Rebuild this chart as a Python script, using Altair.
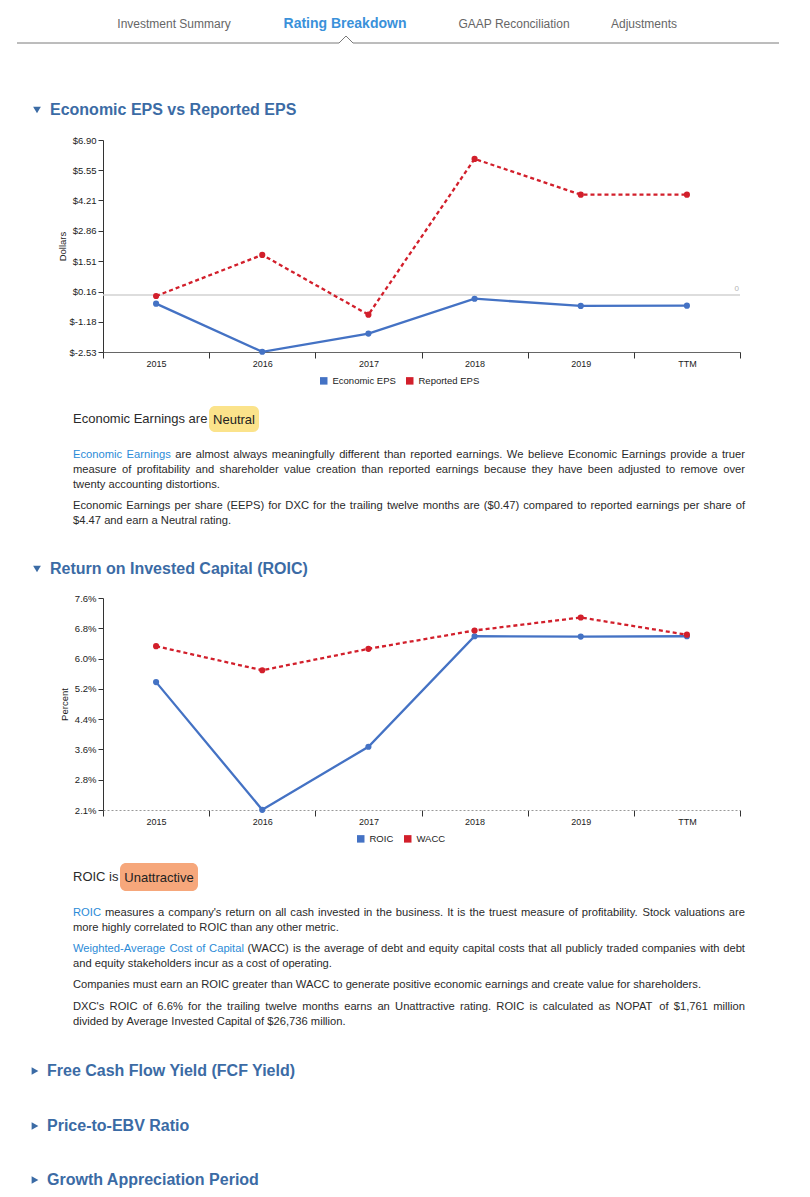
import altair as alt
import pandas as pd

FONT = "Liberation Sans"
BLUE = "#4472c4"
RED = "#d21f2b"
TITLE_C = "#3b6ba5"
LINK_C = "#2b8bd7"
TEXT_C = "#2a2a2a"
TAB_C = "#666666"

# ---------------- data ----------------
periods = ["2015", "2016", "2017", "2018", "2019", "TTM"]

eps_series = ["Economic EPS", "Reported EPS"]
economic_eps = [-0.38, -2.52, -1.71, -0.16, -0.48, -0.47]
reported_eps = [-0.04, 1.79, -0.87, 6.06, 4.47, 4.47]
eps_ticks = [-2.53, -1.18, 0.16, 1.51, 2.86, 4.21, 5.55, 6.90]

roic_series = ["ROIC", "WACC"]
roic = [5.40, 2.06, 3.71, 6.60, 6.59, 6.60]
wacc = [6.34, 5.71, 6.27, 6.75, 7.09, 6.64]
pct_ticks = [2.055, 2.847, 3.639, 4.431, 5.224, 6.016, 6.808, 7.6]

tabs = ["Investment Summary", "Rating Breakdown", "GAAP Reconciliation", "Adjustments"]
open_sections = ["Economic EPS vs Reported EPS", "Return on Invested Capital (ROIC)"]
closed_sections = ["Free Cash Flow Yield (FCF Yield)", "Price-to-EBV Ratio", "Growth Appreciation Period"]

# ---------------- layout helpers ----------------
OX = 103      # page x of plot origin
W = 637       # plot width
H = 212       # plot height
PARA = 11.2
X0, X1 = 73, 745

AW = {' ': 278, '!': 278, '"': 355, '#': 556, '$': 556, '%': 889, '&': 667, "'": 191, '(': 333, ')': 333,
      '*': 389, '+': 584, ',': 278, '-': 333, '.': 278, '/': 278, ':': 278, ';': 278, '<': 584, '=': 584,
      '>': 584, '?': 556, '@': 1015, 'A': 667, 'B': 667, 'C': 722, 'D': 722, 'E': 667, 'F': 611, 'G': 778,
      'H': 722, 'I': 278, 'J': 500, 'K': 667, 'L': 556, 'M': 833, 'N': 722, 'O': 778, 'P': 667, 'Q': 778,
      'R': 722, 'S': 667, 'T': 611, 'U': 722, 'V': 667, 'W': 944, 'X': 667, 'Y': 667, 'Z': 611,
      'a': 556, 'b': 556, 'c': 500, 'd': 556, 'e': 556, 'f': 278, 'g': 556, 'h': 556, 'i': 222, 'j': 222,
      'k': 500, 'l': 222, 'm': 833, 'n': 556, 'o': 556, 'p': 556, 'q': 556, 'r': 333, 's': 500, 't': 278,
      'u': 556, 'v': 500, 'w': 722, 'x': 500, 'y': 500, 'z': 500}
for d in "0123456789":
    AW[d] = 556


def tw(s, size):
    return sum(AW.get(ch, 556) for ch in s) * size / 1000.0


def T(x, y, t, s, c=TEXT_C, w="normal", a="left"):
    return dict(x=x, y=y, t=t, s=s, c=c, w=w, a=a)


def para_line(segments, y, justify, size=PARA):
    words = []
    for text, color in segments:
        for wd in text.split(" "):
            if wd:
                words.append((wd, color))
    widths = [tw(wd, size) for wd, _ in words]
    if justify and len(words) > 1:
        gap = max((X1 - X0 - sum(widths)) / (len(words) - 1), 1.5)
    else:
        gap = tw(" ", size)
    rows, x = [], X0
    for (wd, c), wdt in zip(words, widths):
        rows.append(T(x, y, wd, size, c))
        x += wdt + gap
    return rows


def edge(y):
    return alt.Chart(pd.DataFrame({"k": [0]})).mark_rule(opacity=0).encode(
        x=alt.value(-95), x2=alt.value(697), y=alt.value(y))


def text_cell(top, height, texts, rects=(), rules=(), tris=()):
    layers = [edge(0), edge(height)]
    if rects:
        df = pd.DataFrame([dict(x=a - OX, x2=b - OX, y=c - top, y2=d - top, c=col)
                           for a, b, c, d, col in rects])
        layers.append(alt.Chart(df).mark_rect(cornerRadius=6).encode(
            x=alt.X("x:Q", scale=None, axis=None), x2="x2:Q",
            y=alt.Y("y:Q", scale=None, axis=None), y2="y2:Q",
            color=alt.Color("c:N", scale=None, legend=None)))
    if rules:
        df = pd.DataFrame([dict(x=a - OX, y=b - top, x2=c - OX, y2=d - top) for a, b, c, d in rules])
        layers.append(alt.Chart(df).mark_rule(color="#7a7a7a", strokeWidth=1).encode(
            x=alt.X("x:Q", scale=None, axis=None), x2="x2:Q",
            y=alt.Y("y:Q", scale=None, axis=None), y2="y2:Q"))
    for shape in sorted(set(s for _, _, s in tris)):
        df = pd.DataFrame([dict(x=a - OX, y=b - top) for a, b, s in tris if s == shape])
        layers.append(alt.Chart(df).mark_point(shape=shape, filled=True, size=60, opacity=1,
                                               color=TITLE_C).encode(
            x=alt.X("x:Q", scale=None, axis=None), y=alt.Y("y:Q", scale=None, axis=None)))
    df = pd.DataFrame(texts)
    df["x"] = df["x"] - OX
    df["y"] = df["y"] - top
    for (w, a), grp in df.groupby(["w", "a"]):
        layers.append(alt.Chart(grp[["x", "y", "t", "s", "c"]].reset_index(drop=True)).mark_text(
            align=a, baseline="middle", fontWeight=w, font=FONT).encode(
            x=alt.X("x:Q", scale=None, axis=None),
            y=alt.Y("y:Q", scale=None, axis=None),
            text="t:N",
            color=alt.Color("c:N", scale=None, legend=None),
            size=alt.Size("s:Q", scale=None, legend=None)))
    return alt.layer(*layers).properties(width=W, height=height)


def x_enc(domain_color, dash):
    return alt.X("period:N", title=None,
                 scale=alt.Scale(type="band", domain=periods, paddingInner=0, paddingOuter=0),
                 axis=alt.Axis(tickBand="extent", labelAngle=0, grid=False, domainColor=domain_color,
                               domainDash=dash, tickColor="#333", tickSize=6, labelPadding=1,
                               labelFontSize=9, labelColor="#222", labelFont=FONT))


def line_chart(series, v1, v2, domain, ticks, label_expr, ytitle, title_x, legend_x,
               top_edge, bottom_edge, x_domain_color, x_dash, zero_line):
    df = pd.DataFrame({"period": periods * 2,
                       "series": [series[0]] * len(periods) + [series[1]] * len(periods),
                       "value": v1 + v2})
    x = x_enc(x_domain_color, x_dash)
    y = alt.Y("value:Q", scale=alt.Scale(domain=domain, nice=False, zero=False),
              axis=alt.Axis(values=ticks, labelExpr=label_expr, labelOverlap=False, grid=False,
                            domainColor="#333", tickColor="#333", tickSize=5, labelPadding=2,
                            labelFontSize=9.5, labelColor="#222", labelFont=FONT, title=ytitle,
                            titleFontSize=9.5, titleFontWeight="normal", titleColor="#222",
                            titleFont=FONT, titleAngle=270, titleX=title_x, titleY=H / 2,
                            titleAlign="center", titleBaseline="middle"))
    layers = [edge(top_edge), edge(bottom_edge)]
    if zero_line:
        zdf = pd.DataFrame({"value": [0.0], "t": ["0"]})
        layers.append(alt.Chart(zdf).mark_rule(color="#d2d2d2", strokeWidth=1.5).encode(y=y))
        layers.append(alt.Chart(zdf).mark_text(
            align="right", baseline="middle", dy=-6, fontSize=8, color="#b5b5b5", font=FONT).encode(
            x=alt.value(636), y=y, text="t:N"))
    layers.append(alt.Chart(df).transform_filter(alt.datum.series == series[0]).mark_line(
        color=BLUE, strokeWidth=2.3).encode(x=x, y=y))
    layers.append(alt.Chart(df).transform_filter(alt.datum.series == series[1]).mark_line(
        color=RED, strokeWidth=2.3, strokeDash=[4, 3]).encode(x=x, y=y))
    layers.append(alt.Chart(df).mark_point(filled=True, size=38, opacity=1).encode(
        x=x, y=y,
        color=alt.Color("series:N", scale=alt.Scale(domain=series, range=[BLUE, RED]),
                        legend=alt.Legend(orient="none", legendX=legend_x, legendY=H + 23.75,
                                          direction="horizontal", title=None, symbolType="square",
                                          symbolSize=56, symbolStrokeWidth=0, symbolOpacity=1,
                                          labelFontSize=9.5, labelOffset=4, columnPadding=9,
                                          padding=0, labelColor="#222", labelFont=FONT))))
    return alt.layer(*layers).properties(width=W, height=H)


# ---------------- cells ----------------
# header + first section title (page y 8 .. 128)
tab_x = [174, 345, 514, 644]
header_texts = []
for i, name in enumerate(tabs):
    if i == 1:
        header_texts.append(T(tab_x[i], 24, name, 14, "#3a91da", "bold", "center"))
    else:
        header_texts.append(T(tab_x[i], 24, name, 12, TAB_C, "normal", "center"))
header_texts.append(T(50, 110, open_sections[0], 16, TITLE_C, "bold"))
cell0 = text_cell(8, 120, header_texts,
                  rules=[(17, 43, 339, 43), (353, 43, 779, 43), (339, 43, 346, 36), (346, 36, 353, 43)],
                  tris=[(37, 110, "triangle-down")])

# EPS chart (plot top at page 139.5)
cell1 = line_chart(eps_series, economic_eps, reported_eps, [-2.53, 6.90], eps_ticks,
                   "'$' + (datum.value < 0 ? '-' : '') + format(abs(datum.value), '.2f')",
                   "Dollars", -41, 216, -11.5, 255.5, "#333", [1, 0], True)

# text block 1 (page y 395 .. 545)
t1 = [T(73, 418, "Economic Earnings are", 13), T(234, 418.5, "Neutral", 13, "#222", "normal", "center")]
t1 += para_line([("Economic Earnings", LINK_C),
                 ("are almost always meaningfully different than reported earnings. We believe Economic Earnings provide a truer", TEXT_C)], 454, True)
t1 += para_line([("measure of profitability and shareholder value creation than reported earnings because they have been adjusted to remove over", TEXT_C)], 469, True)
t1 += para_line([("twenty accounting distortions.", TEXT_C)], 484, False)
t1 += para_line([("Economic Earnings per share (EEPS) for DXC for the trailing twelve months are ($0.47) compared to reported earnings per share of", TEXT_C)], 505, True)
t1 += para_line([("$4.47 and earn a Neutral rating.", TEXT_C)], 520, False)
cell2 = text_cell(395, 150, t1, rects=[(209, 259, 405, 431, "#fbe38b")])

# second section title (page y 545 .. 585)
cell3 = text_cell(545, 40, [T(50, 568, open_sections[1], 16, TITLE_C, "bold")],
                  tris=[(37, 568, "triangle-down")])

# ROIC chart (plot top at page 597)
cell4 = line_chart(roic_series, roic, wacc, [pct_ticks[0], pct_ticks[-1]], pct_ticks,
                   "format(datum.value, '.1f') + '%'",
                   "Percent", -39, 253, -12, 253, "#999", [2, 2], False)

# text block 2 + collapsed sections (page y 850 .. 1188)
t2 = [T(73, 876, "ROIC is", 13), T(159, 876.5, "Unattractive", 13, "#222", "normal", "center")]
t2 += para_line([("ROIC", LINK_C),
                 ("measures a company's return on all cash invested in the business. It is the truest measure of profitability. Stock valuations are", TEXT_C)], 912, True)
t2 += para_line([("more highly correlated to ROIC than any other metric.", TEXT_C)], 927, False)
t2 += para_line([("Weighted-Average Cost of Capital", LINK_C),
                 ("(WACC) is the average of debt and equity capital costs that all publicly traded companies with debt", TEXT_C)], 948, True)
t2 += para_line([("and equity stakeholders incur as a cost of operating.", TEXT_C)], 963, False)
t2 += para_line([("Companies must earn an ROIC greater than WACC to generate positive economic earnings and create value for shareholders.", TEXT_C)], 984, False)
t2 += para_line([("DXC's ROIC of 6.6% for the trailing twelve months earns an Unattractive rating. ROIC is calculated as NOPAT of $1,761 million", TEXT_C)], 1006, True)
t2 += para_line([("divided by Average Invested Capital of $26,736 million.", TEXT_C)], 1021, False)
sec_y = [1070, 1125, 1179]
for name, yy in zip(closed_sections, sec_y):
    t2.append(T(47, yy, name, 16, TITLE_C, "bold"))
cell5 = text_cell(850, 338, t2, rects=[(120, 198, 862, 890, "#f6a77b")],
                  tris=[(35, yy, "triangle-right") for yy in sec_y])

chart = alt.vconcat(cell0, cell1, cell2, cell3, cell4, cell5, spacing=0).resolve_scale(
    x="independent", y="independent", color="independent", size="independent"
).resolve_legend(color="independent").properties(padding=0).configure_view(
    strokeWidth=0).configure_text(font=FONT)

chart.save("out.html", embed_options={"renderer": "svg", "actions": False})
